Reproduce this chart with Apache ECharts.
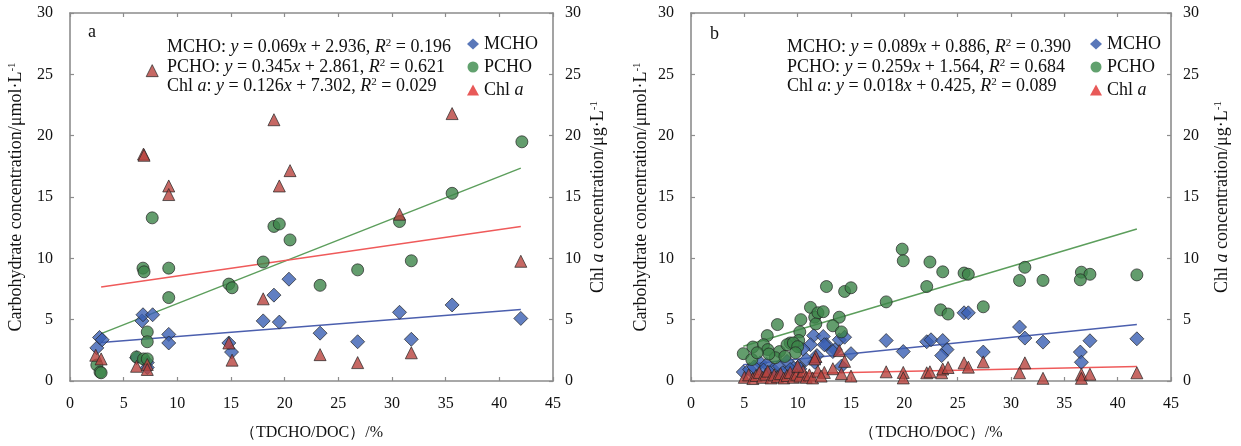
<!DOCTYPE html>
<html>
<head>
<meta charset="utf-8">
<title>TDCHO/DOC vs carbohydrate and Chl a</title>
<script src="https://cdn.jsdelivr.net/npm/echarts@6/dist/echarts.min.js"></script>
<style>
  html, body { margin: 0; padding: 0; background: #fff; }
  #chart { width: 1241px; height: 446px; }
</style>
</head>
<body>
<div id="chart"></div>
<script>
// Panel a: [TDCHO/DOC %, concentration]
const mchoA = [[2.5,2.7],[2.75,3.55],[3.0,3.36],[6.2,1.9],[6.7,4.9],[6.8,5.4],[7.7,5.4],[7.2,1.5],[7.2,1.1],
  [9.2,3.8],[9.2,3.1],[14.8,3.1],[15.05,2.36],[18.0,4.9],[19.0,7.0],[19.5,4.8],[20.4,8.3],[23.3,3.9],
  [26.8,3.2],[30.7,5.6],[31.8,3.4],[35.6,6.2],[42.0,5.1]];
const pchoA = [[2.5,1.3],[2.8,0.73],[2.9,0.67],[6.2,1.96],[6.85,1.8],[7.2,1.8],[7.2,4.0],[7.2,3.2],[6.8,9.2],
  [6.9,8.9],[7.66,13.3],[9.2,9.2],[9.2,6.8],[14.8,7.9],[15.1,7.6],[18.0,9.7],[19.0,12.6],[19.5,12.8],
  [20.5,11.5],[23.3,7.8],[26.8,9.06],[30.7,13.0],[31.8,9.8],[35.6,15.3],[42.1,19.5]];
const chlA = [[2.4,2.1],[2.9,1.8],[6.2,1.2],[7.2,1.35],[7.2,0.94],[6.85,18.5],[6.9,18.4],[7.66,25.3],[9.2,15.9],
  [9.2,15.2],[14.8,3.1],[15.1,1.7],[18.0,6.7],[19.0,21.3],[19.5,15.9],[20.5,17.15],[23.3,2.15],[26.8,1.5],
  [30.7,13.6],[31.8,2.3],[35.6,21.8],[42.0,9.76]];

// Panel b
const mchoB = [[18.3,3.3],[19.9,2.4],[22.1,3.2],[22.5,3.36],[23.6,3.3],[24.0,2.56],[23.5,2.07],[25.6,5.56],
  [26.0,5.56],[30.8,4.4],[31.3,3.5],[33.0,3.17],[37.4,3.28],[36.5,2.36],[36.6,1.53],[41.8,3.44],[27.4,2.36],
  [11.5,3.7],[12.4,3.63],[11.2,2.96],[12.7,2.96],[13.5,2.56],[13.9,3.36],[14.4,3.57],[15.0,2.23],[14.1,1.21],
  [11.8,2.07],[11.6,1.53],[10.5,2.6],[10.8,1.75],[10.1,1.2],[9.6,1.07],[4.9,0.73],[5.5,0.94],[6.5,1.48],
  [7.1,1.35],[7.7,0.94],[8.3,1.2],[9.0,1.6],[9.3,0.94],[5.9,1.15],[6.8,0.89],[7.4,0.67],[8.6,0.67],[10.2,0.99],
  [12.5,2.96],[13.3,2.4]];
const pchoB = [[19.8,10.75],[19.9,9.8],[22.4,9.7],[23.6,8.9],[22.1,7.7],[23.4,5.8],[24.1,5.46],[18.3,6.45],
  [12.7,7.7],[14.4,7.3],[15.0,7.6],[11.2,6.0],[11.6,5.2],[11.9,5.56],[12.4,5.65],[10.3,5.0],[11.7,4.65],
  [13.9,5.2],[13.3,4.5],[8.1,4.6],[10.2,4.0],[10.1,3.3],[9.3,3.1],[14.1,4.0],[7.15,3.7],[5.8,2.77],[6.8,2.96],
  [7.2,2.56],[4.9,2.23],[5.7,1.75],[8.3,2.4],[9.0,2.96],[9.6,3.1],[10.0,2.8],[9.8,2.3],[7.9,1.9],[7.3,2.2],
  [6.2,2.3],[8.8,2.0],[25.6,8.8],[26.0,8.7],[31.3,9.27],[30.8,8.2],[33.0,8.2],[36.6,8.87],[37.4,8.7],
  [36.5,8.25],[41.8,8.65],[27.4,6.05]];
const chlB = [[5.0,0.3],[5.4,0.5],[5.8,0.2],[6.1,0.45],[6.4,0.7],[6.7,0.3],[7.0,0.55],[7.2,0.8],[7.5,0.25],
  [7.8,0.5],[8.1,0.35],[8.4,0.6],[8.7,0.25],[9.0,0.45],[9.3,0.7],[9.6,0.3],[9.9,0.55],[10.2,0.4],[10.5,0.8],
  [10.8,0.3],[11.1,0.5],[11.4,0.25],[11.9,0.8],[12.5,0.7],[12.2,0.4],[13.3,1.0],[13.9,2.48],[11.7,2.0],
  [11.6,1.8],[14.4,1.6],[10.0,1.2],[15.0,0.4],[14.1,0.6],[18.3,0.75],[19.9,0.7],[19.9,0.25],[22.1,0.67],
  [22.4,0.75],[23.5,0.67],[23.6,0.98],[24.1,1.1],[25.6,1.48],[26.0,1.13],[27.4,1.56],[31.3,1.48],[30.8,0.67],
  [33.0,0.22],[36.6,0.55],[36.6,0.22],[37.4,0.55],[41.8,0.67]];

// Linear fits, order: MCHO, PCHO, Chl a
const seriesNames = ['MCHO', 'PCHO', 'Chl a'];
const slopeA = [0.069, 0.345, 0.126];
const interceptA = [2.936, 2.861, 7.302];
const r2A = [0.196, 0.621, 0.029];
const fitRangeA = [2.9, 42.0];
const slopeB = [0.089, 0.259, 0.018];
const interceptB = [0.886, 1.564, 0.425];
const r2B = [0.390, 0.684, 0.089];
const fitRangeB = [4.9, 41.8];

const FONT = '"Liberation Serif", "Times New Roman", serif';
const AXIS_GRAY = '#8c8c8c';
const markerFill = ['#3a5fb3', '#3c8449', '#b8423d'];
const legendFill = ['#2f55a8', '#3a8a4a', '#e2302e'];
const fitColor = ['#4b5fae', '#5c9e5c', '#ef5a5a'];
const symbols = ['diamond', 'circle', 'triangle'];
const symbolSizes = [14, 12, 12];

const rich = {
  i: { fontStyle: 'italic', fontFamily: FONT, fontSize: 18 },
  sup: { fontFamily: FONT, fontSize: 11, verticalAlign: 'top', lineHeight: 12 }
};

function eqLines(slope, intercept, r2) {
  const lab = ['MCHO', 'PCHO', 'Chl {i|a}'];
  return lab.map((l, k) =>
    l + ': {i|y} = ' + slope[k].toFixed(3) + '{i|x} + ' + intercept[k].toFixed(3) +
    ', {i|R}{sup|2} = ' + r2[k].toFixed(3)).join('\n');
}

function fitLine(k, slope, intercept, range) {
  return range.map(x => [x, slope[k] * x + intercept[k]]);
}

const axisLine = { show: true, onZero: false, lineStyle: { color: AXIS_GRAY, width: 1.6 } };
const axisTick = { show: true, inside: true, length: 4, lineStyle: { color: AXIS_GRAY, width: 1.2 } };
const labelStyle = { fontFamily: FONT, fontSize: 16, color: '#111' };

function xAxes(gridIndex) {
  return [
    { type: 'value', gridIndex, position: 'bottom', min: 0, max: 45, interval: 5,
      axisLine, axisTick, splitLine: { show: false },
      axisLabel: Object.assign({ margin: 15 }, labelStyle),
      name: '（TDCHO/DOC）/%', nameLocation: 'middle', nameGap: 44,
      nameTextStyle: { fontFamily: FONT, fontSize: 16, color: '#111' } },
    { type: 'value', gridIndex, position: 'top', min: 0, max: 45, interval: 5,
      axisLine, axisTick, splitLine: { show: false }, axisLabel: { show: false } }
  ];
}

function yAxes(gridIndex, leftGap, rightGap) {
  return [
    { type: 'value', gridIndex, position: 'left', min: 0, max: 30, interval: 5,
      axisLine, axisTick, splitLine: { show: false },
      axisLabel: Object.assign({ margin: 17 }, labelStyle),
      name: 'Carbohydrate concentration/μmol·L{sup|-1}', nameLocation: 'middle', nameGap: leftGap,
      nameTextStyle: { fontFamily: FONT, fontSize: 18, color: '#111', rich } },
    { type: 'value', gridIndex, position: 'right', min: 0, max: 30, interval: 5,
      axisLine, axisTick, splitLine: { show: false },
      axisLabel: Object.assign({ margin: 12 }, labelStyle),
      name: 'Chl {i|a} concentration/μg·L{sup|-1}', nameLocation: 'middle', nameGap: rightGap,
      nameRotate: 90,
      nameTextStyle: { fontFamily: FONT, fontSize: 18, color: '#111', rich } }
  ];
}

function panelSeries(p, data, slope, intercept, range) {
  const out = [];
  const xi = p * 2, yl = p * 2, yr = p * 2 + 1;
  // fitted lines underneath the points
  for (let k = 0; k < 3; k++) {
    out.push({
      name: seriesNames[k] + ' fit', type: 'line', xAxisIndex: xi, yAxisIndex: k === 2 ? yr : yl,
      data: fitLine(k, slope, intercept, range), showSymbol: false, silent: true,
      lineStyle: { color: fitColor[k], width: 1.5 }, z: 1
    });
  }
  // PCHO, then MCHO, then Chl a on top
  [1, 0, 2].forEach(k => {
    out.push({
      name: seriesNames[k], type: 'scatter', xAxisIndex: xi, yAxisIndex: k === 2 ? yr : yl,
      data: data[k], symbol: symbols[k], symbolSize: symbolSizes[k],
      itemStyle: { color: markerFill[k], borderColor: '#262626', borderWidth: 0.9 }, z: 2 + k
    });
  });
  return out;
}

function legendAt(left) {
  return {
    orient: 'vertical', left, top: 29, itemGap: 3, itemWidth: 12, itemHeight: 11,
    selectedMode: false,
    data: seriesNames.map((n, k) => ({
      name: n, icon: symbols[k],
      itemStyle: { color: legendFill[k], borderWidth: 0 }
    })),
    formatter: n => n === 'Chl a' ? 'Chl {i|a}' : n,
    textStyle: { fontFamily: FONT, fontSize: 18, color: '#111', lineHeight: 20, rich: { i: { fontStyle: 'italic', fontFamily: FONT, fontSize: 18 } } }
  };
}

const option = {
  animation: false,
  backgroundColor: '#fff',
  grid: [
    { left: 70, right: 688, top: 13, bottom: 61 },
    { left: 691, right: 70, top: 13, bottom: 61 }
  ],
  xAxis: [...xAxes(0), ...xAxes(1)],
  yAxis: [...yAxes(0, 45, 36), ...yAxes(1, 41, 42)],
  legend: [legendAt(462), legendAt(1085)],
  title: [
    { text: 'a', left: 83, top: 18, textStyle: { fontFamily: FONT, fontSize: 18, fontWeight: 'normal', color: '#111' } },
    { text: 'b', left: 705, top: 20, textStyle: { fontFamily: FONT, fontSize: 18, fontWeight: 'normal', color: '#111' } },
    { text: eqLines(slopeA, interceptA, r2A), left: 162, top: 33,
      textStyle: { fontFamily: FONT, fontSize: 18, fontWeight: 'normal', color: '#111', lineHeight: 19.5, rich } },
    { text: eqLines(slopeB, interceptB, r2B), left: 782, top: 33,
      textStyle: { fontFamily: FONT, fontSize: 18, fontWeight: 'normal', color: '#111', lineHeight: 19.5, rich } }
  ],
  series: [
    ...panelSeries(0, [mchoA, pchoA, chlA], slopeA, interceptA, fitRangeA),
    ...panelSeries(1, [mchoB, pchoB, chlB], slopeB, interceptB, fitRangeB)
  ]
};

const chart = echarts.init(document.getElementById('chart'), null, { renderer: 'canvas' });
chart.setOption(option);
</script>
</body>
</html>
